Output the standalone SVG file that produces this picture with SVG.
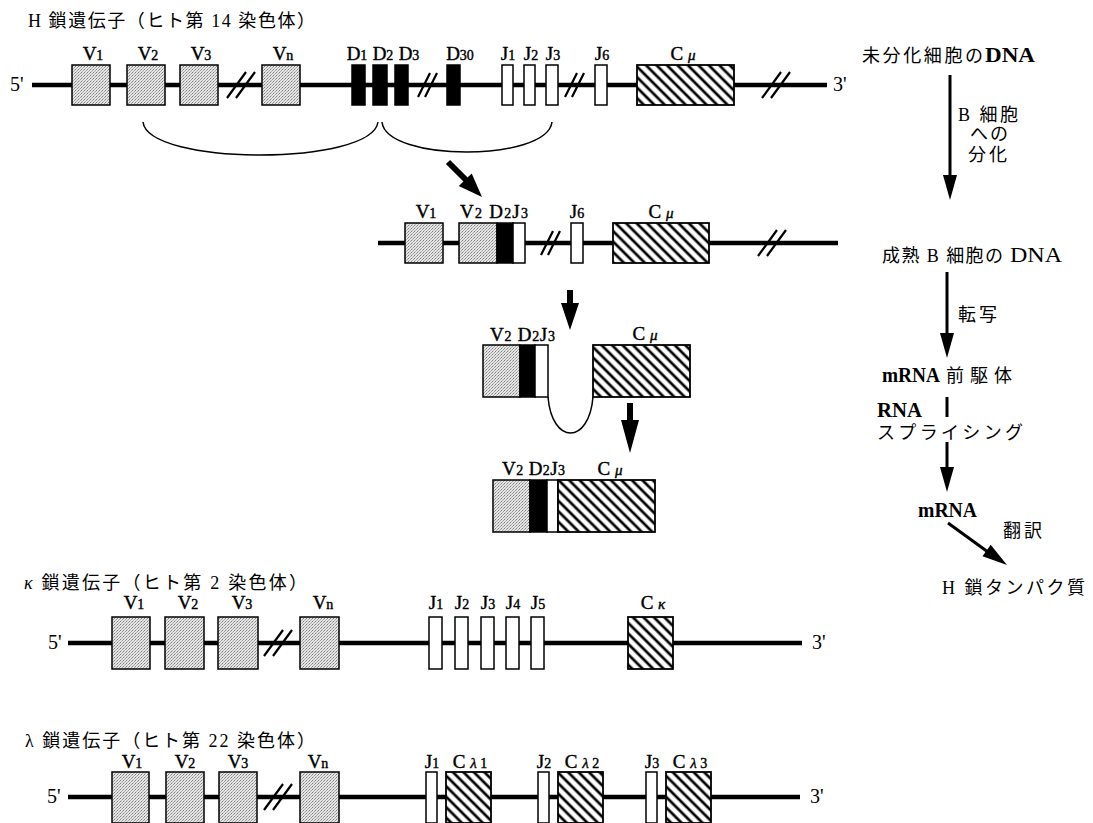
<svg xmlns="http://www.w3.org/2000/svg" width="1093" height="823" viewBox="0 0 1093 823">
<defs>
<pattern id="dots" width="3" height="3" patternUnits="userSpaceOnUse"><rect width="3" height="3" fill="#e4e4e4"/><rect x="0" y="0" width="1" height="1" fill="#808080"/><rect x="2" y="1" width="1" height="1" fill="#a0a0a0"/><rect x="1" y="2" width="1" height="1" fill="#b0b0b0"/></pattern>
<pattern id="hatch" width="7.4" height="7.4" patternUnits="userSpaceOnUse" patternTransform="rotate(-45)"><rect width="7.4" height="7.4" fill="#fff"/><line x1="3.7" y1="-1" x2="3.7" y2="9" stroke="#000" stroke-width="2.7"/></pattern>
</defs>
<style>
text{font-family:"Liberation Serif","Noto Sans CJK JP",serif;fill:#000}
.ti{font-size:18px}
.la{font-size:20px}
.lb{font-size:19px;stroke:#000;stroke-width:0.4}
.sb{font-size:14px}
.gr{font-style:italic;font-size:15px}
.bd{font-weight:bold}
.ln{stroke:#000;stroke-width:4.5;fill:none}
.br{stroke:#000;stroke-width:2.2;fill:none}
.v{fill:url(#dots);stroke:#000;stroke-width:1.5}
.d{fill:#000;stroke:#000;stroke-width:1.5}
.j{fill:#fff;stroke:#000;stroke-width:1.5}
.c{fill:url(#hatch);stroke:#000;stroke-width:1.8}
.arc{fill:none;stroke:#000;stroke-width:1.5}
.s3{stroke:#000;stroke-width:3;fill:none}
.s6{stroke:#000;stroke-width:6;fill:none}
.hd{fill:#000}
</style>
<rect width="1093" height="823" fill="#fff"/>

<!-- ========== H chain germline ========== -->
<g id="h-title"><text class="ti" x="28" y="27" textLength="287" lengthAdjust="spacing">H 鎖遺伝子（ヒト第 14 染色体）</text></g>
<g id="h-line">
<line class="ln" x1="32" y1="85" x2="827" y2="85"/>
<text class="la" x="10" y="91">5'</text>
<text class="la" x="833" y="91">3'</text>
<path class="br" d="M227,98 L246,72 M236,98 L255,72"/>
<path class="br" d="M418,97 L430,73 M425,97 L437,73"/>
<path class="br" d="M565,97 L577,73 M572,97 L584,73"/>
<path class="br" d="M762,98 L781,72 M771,98 L790,72"/>
</g>
<g id="h-V1"><rect class="v" x="72" y="65" width="38" height="40"/><text class="lb" x="93" y="60" text-anchor="middle">V<tspan class="sb">1</tspan></text></g>
<g id="h-V2"><rect class="v" x="127" y="65" width="38" height="40"/><text class="lb" x="148" y="60" text-anchor="middle">V<tspan class="sb">2</tspan></text></g>
<g id="h-V3"><rect class="v" x="180" y="65" width="38" height="40"/><text class="lb" x="201" y="60" text-anchor="middle">V<tspan class="sb">3</tspan></text></g>
<g id="h-Vn"><rect class="v" x="262" y="65" width="38" height="40"/><text class="lb" x="283" y="60" text-anchor="middle">V<tspan class="sb">n</tspan></text></g>
<g id="h-D1"><rect class="d" x="352" y="65" width="13" height="40"/><text class="lb" x="357" y="60" text-anchor="middle">D<tspan class="sb">1</tspan></text></g>
<g id="h-D2"><rect class="d" x="373" y="65" width="14" height="40"/><text class="lb" x="383" y="60" text-anchor="middle">D<tspan class="sb">2</tspan></text></g>
<g id="h-D3"><rect class="d" x="395" y="65" width="13" height="40"/><text class="lb" x="409" y="60" text-anchor="middle">D<tspan class="sb">3</tspan></text></g>
<g id="h-D30"><rect class="d" x="447" y="65" width="13" height="40"/><text class="lb" x="460" y="60" text-anchor="middle">D<tspan class="sb">30</tspan></text></g>
<g id="h-J1"><rect class="j" x="502" y="65" width="11" height="40"/><text class="lb" x="508" y="60" text-anchor="middle">J<tspan class="sb">1</tspan></text></g>
<g id="h-J2"><rect class="j" x="524" y="65" width="11" height="40"/><text class="lb" x="531" y="60" text-anchor="middle">J<tspan class="sb">2</tspan></text></g>
<g id="h-J3"><rect class="j" x="546" y="65" width="12" height="40"/><text class="lb" x="553" y="60" text-anchor="middle">J<tspan class="sb">3</tspan></text></g>
<g id="h-J6"><rect class="j" x="595" y="65" width="12" height="40"/><text class="lb" x="602" y="60" text-anchor="middle">J<tspan class="sb">6</tspan></text></g>
<g id="h-Cmu"><rect class="c" x="637" y="65" width="97" height="40"/><text class="lb" x="683" y="60" text-anchor="middle">C <tspan class="gr">μ</tspan></text></g>

<!-- ========== rearranged DNA ========== -->
<g id="m-line">
<line class="ln" x1="378" y1="243" x2="838" y2="243"/>
<path class="br" d="M541,255 L553,231 M548,255 L560,231"/>
<path class="br" d="M758,256 L777,230 M767,256 L786,230"/>
</g>
<g id="m-V1"><rect class="v" x="405" y="223" width="38" height="40"/><text class="lb" x="426" y="218" text-anchor="middle">V<tspan class="sb">1</tspan></text></g>
<g id="m-V2D2J3"><rect class="v" x="459" y="223" width="38" height="40"/><rect class="d" x="497" y="223" width="16" height="40"/><rect class="j" x="513" y="223" width="12" height="40"/><text class="lb" x="460" y="218" textLength="68" lengthAdjust="spacing">V<tspan class="sb">2</tspan> D<tspan class="sb">2</tspan>J<tspan class="sb">3</tspan></text></g>
<g id="m-J6"><rect class="j" x="571" y="223" width="12" height="40"/><text class="lb" x="577" y="218" text-anchor="middle">J<tspan class="sb">6</tspan></text></g>
<g id="m-Cmu"><rect class="c" x="613" y="223" width="96" height="40"/><text class="lb" x="661" y="218" text-anchor="middle">C <tspan class="gr">μ</tspan></text></g>

<!-- ========== pre-mRNA ========== -->
<g id="p-VDJ"><rect class="v" x="483" y="345" width="37" height="52"/><rect class="d" x="520" y="345" width="15" height="52"/><rect class="j" x="535" y="345" width="13" height="52"/><text class="lb" x="490" y="341" textLength="65" lengthAdjust="spacing">V<tspan class="sb">2</tspan> D<tspan class="sb">2</tspan>J<tspan class="sb">3</tspan></text></g>
<g id="p-Cmu"><rect class="c" x="593" y="345" width="97" height="52"/><text class="lb" x="645" y="340" text-anchor="middle">C <tspan class="gr">μ</tspan></text></g>

<!-- ========== mRNA ========== -->
<g id="r-mRNA"><rect class="v" x="493" y="480" width="37" height="52"/><rect class="d" x="530" y="480" width="17" height="52"/><rect class="j" x="547" y="480" width="11" height="52"/><rect class="c" x="558" y="480" width="97" height="52"/><text class="lb" x="502" y="475" textLength="63" lengthAdjust="spacing">V<tspan class="sb">2</tspan> D<tspan class="sb">2</tspan>J<tspan class="sb">3</tspan></text><text class="lb" x="610" y="475" text-anchor="middle">C <tspan class="gr">μ</tspan></text></g>

<!-- ========== right column ========== -->
<g id="t-undiff"><text class="ti" x="862" y="62" textLength="121" lengthAdjust="spacing">未分化細胞の</text><text class="la bd" x="985" y="62" textLength="50" lengthAdjust="spacingAndGlyphs">DNA</text></g>
<g id="t-diff"><text class="ti" x="958" y="121" textLength="60" lengthAdjust="spacing">B 細胞</text><text class="ti" x="970" y="140" textLength="38" lengthAdjust="spacing">への</text><text class="ti" x="968" y="161" textLength="39" lengthAdjust="spacing">分化</text></g>
<g id="t-mature"><text class="ti" x="882" y="262" textLength="121" lengthAdjust="spacing">成熟 B 細胞の</text><text class="la" x="1010" y="262" textLength="52" lengthAdjust="spacingAndGlyphs">DNA</text></g>
<g id="t-trans"><text class="ti" x="958" y="321" textLength="39" lengthAdjust="spacing">転写</text></g>
<g id="t-pre"><text class="la bd" x="882" y="382" textLength="58" lengthAdjust="spacingAndGlyphs">mRNA</text><text class="ti" x="946" y="382" textLength="66" lengthAdjust="spacing">前駆体</text></g>
<g id="t-splice"><text class="la bd" x="877" y="417" textLength="45" lengthAdjust="spacingAndGlyphs">RNA</text><text class="ti" x="877" y="439" textLength="146" lengthAdjust="spacing">スプライシング</text></g>
<g id="t-mrna"><text class="la bd" x="918" y="517" textLength="59" lengthAdjust="spacingAndGlyphs">mRNA</text></g>
<g id="t-transl"><text class="ti" x="1003" y="537" textLength="39" lengthAdjust="spacing">翻訳</text></g>
<g id="t-protein"><text class="ti" x="942" y="594" textLength="143" lengthAdjust="spacing">H 鎖タンパク質</text></g>

<!-- ========== kappa ========== -->
<g id="k-title"><text class="ti" x="24" y="589" textLength="283" lengthAdjust="spacing"><tspan font-style="italic">κ</tspan> 鎖遺伝子（ヒト第 2 染色体）</text></g>
<g id="k-line">
<line class="ln" x1="68" y1="643" x2="802" y2="643"/>
<text class="la" x="48" y="649">5'</text>
<text class="la" x="812" y="649">3'</text>
<path class="br" d="M264,656 L283,630 M273,656 L292,630"/>
</g>
<g id="k-V1"><rect class="v" x="112" y="617" width="38" height="52"/><text class="lb" x="134" y="609" text-anchor="middle">V<tspan class="sb">1</tspan></text></g>
<g id="k-V2"><rect class="v" x="165" y="617" width="39" height="52"/><text class="lb" x="188" y="609" text-anchor="middle">V<tspan class="sb">2</tspan></text></g>
<g id="k-V3"><rect class="v" x="218" y="617" width="40" height="52"/><text class="lb" x="242" y="609" text-anchor="middle">V<tspan class="sb">3</tspan></text></g>
<g id="k-Vn"><rect class="v" x="300" y="617" width="39" height="52"/><text class="lb" x="323" y="609" text-anchor="middle">V<tspan class="sb">n</tspan></text></g>
<g id="k-J1"><rect class="j" x="429" y="617" width="13" height="52"/><text class="lb" x="436" y="609" text-anchor="middle">J<tspan class="sb">1</tspan></text></g>
<g id="k-J2"><rect class="j" x="455" y="617" width="13" height="52"/><text class="lb" x="462" y="609" text-anchor="middle">J<tspan class="sb">2</tspan></text></g>
<g id="k-J3"><rect class="j" x="481" y="617" width="13" height="52"/><text class="lb" x="488" y="609" text-anchor="middle">J<tspan class="sb">3</tspan></text></g>
<g id="k-J4"><rect class="j" x="506" y="617" width="13" height="52"/><text class="lb" x="513" y="609" text-anchor="middle">J<tspan class="sb">4</tspan></text></g>
<g id="k-J5"><rect class="j" x="531" y="617" width="13" height="52"/><text class="lb" x="538" y="609" text-anchor="middle">J<tspan class="sb">5</tspan></text></g>
<g id="k-Ck"><rect class="c" x="628" y="617" width="45" height="52"/><text class="lb" x="653" y="609" text-anchor="middle">C <tspan class="gr">κ</tspan></text></g>

<!-- ========== lambda ========== -->
<g id="l-title"><text class="ti" x="25" y="747" textLength="290" lengthAdjust="spacing">λ 鎖遺伝子（ヒト第 22 染色体）</text></g>
<g id="l-line">
<line class="ln" x1="68" y1="797" x2="800" y2="797"/>
<text class="la" x="47" y="803">5'</text>
<text class="la" x="810" y="803">3'</text>
<path class="br" d="M264,810 L283,784 M273,810 L292,784"/>
</g>
<g id="l-V1"><rect class="v" x="112" y="772" width="37" height="51"/><text class="lb" x="132" y="768" text-anchor="middle">V<tspan class="sb">1</tspan></text></g>
<g id="l-V2"><rect class="v" x="166" y="772" width="38" height="51"/><text class="lb" x="185" y="768" text-anchor="middle">V<tspan class="sb">2</tspan></text></g>
<g id="l-V3"><rect class="v" x="219" y="772" width="38" height="51"/><text class="lb" x="238" y="768" text-anchor="middle">V<tspan class="sb">3</tspan></text></g>
<g id="l-Vn"><rect class="v" x="300" y="772" width="39" height="51"/><text class="lb" x="318" y="768" text-anchor="middle">V<tspan class="sb">n</tspan></text></g>
<g id="l-J1"><rect class="j" x="426" y="772" width="11" height="51"/><text class="lb" x="432" y="768" text-anchor="middle">J<tspan class="sb">1</tspan></text></g>
<g id="l-C1"><rect class="c" x="446" y="772" width="45" height="51"/><text class="lb" x="470" y="768" text-anchor="middle">C <tspan class="gr">λ</tspan><tspan class="sb"> 1</tspan></text></g>
<g id="l-J2"><rect class="j" x="538" y="772" width="11" height="51"/><text class="lb" x="544" y="768" text-anchor="middle">J<tspan class="sb">2</tspan></text></g>
<g id="l-C2"><rect class="c" x="558" y="772" width="45" height="51"/><text class="lb" x="582" y="768" text-anchor="middle">C <tspan class="gr">λ</tspan><tspan class="sb"> 2</tspan></text></g>
<g id="l-J3"><rect class="j" x="646" y="772" width="11" height="51"/><text class="lb" x="652" y="768" text-anchor="middle">J<tspan class="sb">3</tspan></text></g>
<g id="l-C3"><rect class="c" x="666" y="772" width="45" height="51"/><text class="lb" x="690" y="768" text-anchor="middle">C <tspan class="gr">λ</tspan><tspan class="sb"> 3</tspan></text></g>

<!-- ========== connectors ========== -->
<g id="connectors">
<path class="arc" d="M143,122 C148,166 372,166 378,122"/>
<path class="arc" d="M382,122 C386,162 547,162 552,122"/>
<line class="s6" x1="448" y1="162" x2="467" y2="181"/>
<polygon class="hd" points="458.8,186.1 471.7,173.5 482,197"/>
<line class="s6" x1="570" y1="290" x2="570" y2="305"/>
<polygon class="hd" points="561,303 579,303 570,330"/>
<path class="arc" d="M548,397 C552,445 589,445 593,397"/>
<line class="s6" x1="630" y1="403" x2="630" y2="422"/>
<polygon class="hd" points="621,420 639,420 630,453"/>
<line class="s3" x1="950" y1="75" x2="950" y2="177"/>
<polygon class="hd" points="943,175 957,175 950,200"/>
<line class="s3" x1="947" y1="272" x2="947" y2="335"/>
<polygon class="hd" points="940,333 954,333 947,358"/>
<line class="s3" x1="947" y1="397" x2="947" y2="417"/>
<line class="s3" x1="947" y1="442" x2="947" y2="469"/>
<polygon class="hd" points="940,467 954,467 947,492"/>
<line class="s3" x1="948" y1="523" x2="988" y2="552"/>
<polygon class="hd" points="982.5,556.2 990.7,544.8 1007,565"/>
</g>
</svg>
